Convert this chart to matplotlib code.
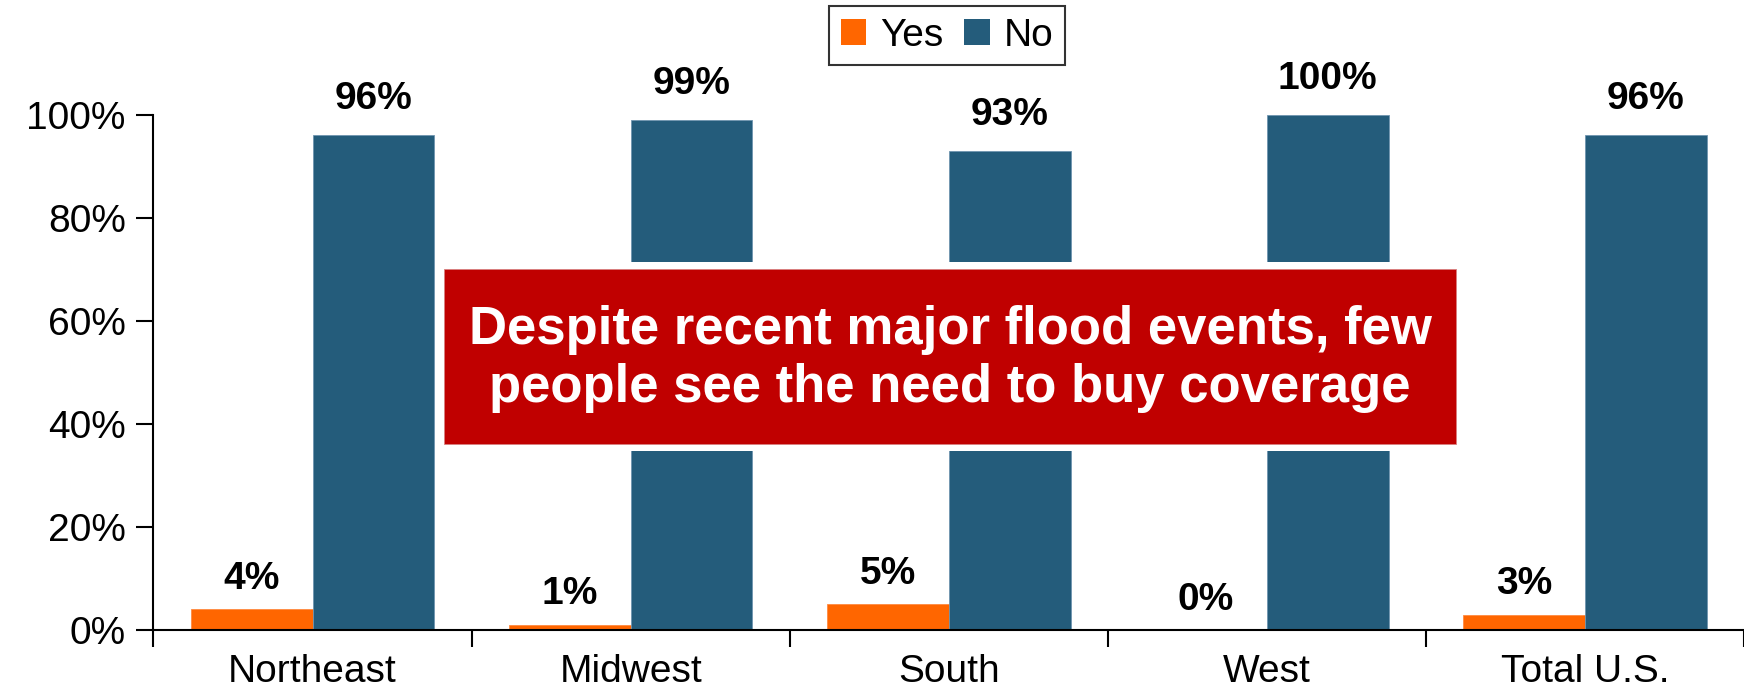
import matplotlib
matplotlib.use("Agg")
import matplotlib.pyplot as plt
from matplotlib.patches import Rectangle, Patch
import numpy as np

categories = ["Northeast", "Midwest", "South", "West", "Total U.S."]
yes_vals = [4, 1, 5, 0, 3]
no_vals = [96, 99, 93, 100, 96]
series_names = ["Yes", "No"]
ytick_vals = [0, 20, 40, 60, 80, 100]
callout = "Despite recent major flood events, few\npeople see the need to buy coverage"

orange = "#FF6600"
blue = "#245C7B"
red = "#C00000"

plt.rcParams['font.family'] = ['Liberation Sans', 'DejaVu Sans']

fig = plt.figure(figsize=(17.44, 6.88), dpi=100)
ax = fig.add_axes([0.088, 0.0843, 0.912, 0.7491])

x = np.arange(len(categories))
w = 0.383
b1 = ax.bar(x - w/2, yes_vals, w, color=orange, edgecolor="#FF8A40", linewidth=0.6, zorder=2)
b2 = ax.bar(x + w/2, no_vals, w, color=blue, edgecolor="#6F95B0", linewidth=0.6, zorder=2)

for rect, v in zip(b1, yes_vals):
    ax.annotate(f"{v}%", (rect.get_x() + rect.get_width()/2, rect.get_height()),
                xytext=(0, 9), textcoords="offset points", ha="center", va="bottom",
                fontsize=28, fontweight="bold", zorder=3)
for rect, v in zip(b2, no_vals):
    ax.annotate(f"{v}%", (rect.get_x() + rect.get_width()/2, rect.get_height()),
                xytext=(0, 13), textcoords="offset points", ha="center", va="bottom",
                fontsize=28, fontweight="bold", zorder=3)

ax.set_xlim(-0.5, len(categories) - 0.5)
ax.set_ylim(0, 100)
ax.set_yticks(ytick_vals)
ax.set_yticklabels([f"{v}%" for v in ytick_vals], fontsize=28)
ax.set_xticks(np.arange(len(categories) + 1) - 0.5)
ax.set_xticklabels([])
ax.set_xticks(x, minor=True)
ax.set_xticklabels(categories, minor=True, fontsize=28)
ax.tick_params(axis="x", which="major", length=12, width=1.5, direction="out")
ax.tick_params(axis="x", which="minor", length=0, pad=17)
ax.tick_params(axis="y", length=12, width=1.5, direction="out", pad=8)
for s in ["top", "right"]:
    ax.spines[s].set_visible(False)
ax.spines["left"].set_linewidth(1.5)
ax.spines["bottom"].set_linewidth(1.5)
ax.spines["bottom"].set_zorder(4)

# Callout box
x0, x1, y0, y1 = 0.1826, 0.819, 0.361, 0.700
px, py = 7/1590.5, 7/515.4
ax.add_patch(Rectangle((x0 - px, y0 - py), (x1 - x0) + 2*px, (y1 - y0) + 2*py,
                       transform=ax.transAxes, facecolor="white", edgecolor="none",
                       zorder=5, clip_on=False))
ax.add_patch(Rectangle((x0, y0), x1 - x0, y1 - y0, transform=ax.transAxes,
                       facecolor=red, edgecolor="#D88080", linewidth=0.6, zorder=6, clip_on=False))
ax.text((x0 + x1)/2, (y0 + y1)/2 - 0.005, callout, transform=ax.transAxes, ha="center", va="center",
        color="white", fontsize=38, fontweight="bold", linespacing=1.2,
        family=["Liberation Sans Narrow", "Liberation Sans", "DejaVu Sans"], zorder=7)

handles = [Patch(facecolor=orange, edgecolor="none"), Patch(facecolor=blue, edgecolor="none")]
leg = fig.legend(handles, series_names, loc="center", bbox_to_anchor=(0.543, 0.948), ncol=2,
                 fontsize=28, frameon=True, fancybox=False, edgecolor="black",
                 handlelength=0.65, handleheight=0.65, handletextpad=0.36,
                 columnspacing=0.55, borderpad=0.3, borderaxespad=0)
leg.get_frame().set_linewidth(1.5)

fig.savefig("out.png", dpi=100)
